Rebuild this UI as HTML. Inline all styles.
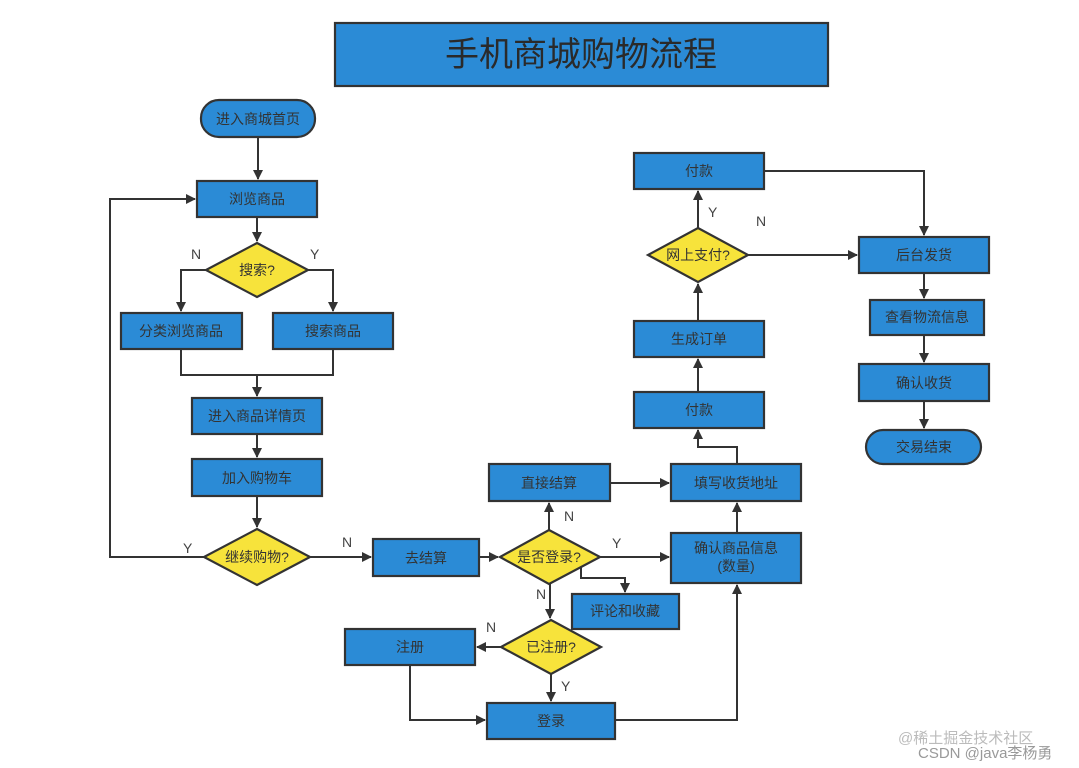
<!DOCTYPE html>
<html><head><meta charset="utf-8"><style>
html,body{margin:0;padding:0;background:#fff;}
svg{display:block;}
text{font-family:"Liberation Sans","Noto Sans CJK SC",sans-serif;fill:#333;}
.b{fill:#2b8bd6;stroke:#333;stroke-width:2.2;}
.d{fill:#f7e33b;stroke:#333;stroke-width:2.2;}
.l{fill:none;stroke:#333;stroke-width:2;}
.t{font-size:14px;text-anchor:middle;dominant-baseline:central;}
.s{font-size:14px;fill:#444;}
</style></head><body>
<svg width="1079" height="768" viewBox="0 0 1079 768" xmlns="http://www.w3.org/2000/svg">
<defs><marker id="a" markerWidth="10" markerHeight="10" refX="9" refY="5" orient="auto" markerUnits="userSpaceOnUse"><path d="M0,0 L10,5 L0,10 z" fill="#333"/></marker></defs>
<rect class="b" x="335" y="23" width="493" height="63"/>
<text x="581" y="55" style="font-size:34px;text-anchor:middle;dominant-baseline:central;fill:#2a2a2a">手机商城购物流程</text>

<!-- connectors -->
<g class="l">
<path d="M258,137 V179" marker-end="url(#a)"/>
<path d="M257,217 V241" marker-end="url(#a)"/>
<path d="M206,270 H181 V311" marker-end="url(#a)"/>
<path d="M308,270 H333 V311" marker-end="url(#a)"/>
<path d="M181,349 V375 H333 V349"/>
<path d="M257,375 V396" marker-end="url(#a)"/>
<path d="M257,434 V457" marker-end="url(#a)"/>
<path d="M257,496 V527" marker-end="url(#a)"/>
<path d="M204,557 H110 V199 H195" marker-end="url(#a)"/>
<path d="M310,557 H371" marker-end="url(#a)"/>
<path d="M479,557 H498" marker-end="url(#a)"/>
<path d="M549,530 V503" marker-end="url(#a)"/>
<path d="M600,557 H669" marker-end="url(#a)"/>
<path d="M581,566 V578 H625 V592" marker-end="url(#a)"/>
<path d="M550,584 V618" marker-end="url(#a)"/>
<path d="M501,647 H477" marker-end="url(#a)"/>
<path d="M551,674 V701" marker-end="url(#a)"/>
<path d="M410,665 V720 H485" marker-end="url(#a)"/>
<path d="M615,720 H737 V585" marker-end="url(#a)"/>
<path d="M610,483 H669" marker-end="url(#a)"/>
<path d="M737,533 V503" marker-end="url(#a)"/>
<path d="M737,464 V447 H698 V430" marker-end="url(#a)"/>
<path d="M698,392 V359" marker-end="url(#a)"/>
<path d="M698,321 V284" marker-end="url(#a)"/>
<path d="M698,228 V191" marker-end="url(#a)"/>
<path d="M748,255 H857" marker-end="url(#a)"/>
<path d="M764,171 H924 V235" marker-end="url(#a)"/>
<path d="M924,273 V298" marker-end="url(#a)"/>
<path d="M924,335 V362" marker-end="url(#a)"/>
<path d="M924,401 V428" marker-end="url(#a)"/>
</g>

<!-- nodes -->
<rect class="b" x="201" y="100" width="114" height="37" rx="18"/><text class="t" x="258" y="119">进入商城首页</text>
<rect class="b" x="197" y="181" width="120" height="36"/><text class="t" x="257" y="199">浏览商品</text>
<polygon class="d" points="257,243 308,270 257,297 206,270"/><text class="t" x="257" y="270">搜索?</text>
<rect class="b" x="121" y="313" width="121" height="36"/><text class="t" x="181" y="331">分类浏览商品</text>
<rect class="b" x="273" y="313" width="120" height="36"/><text class="t" x="333" y="331">搜索商品</text>
<rect class="b" x="192" y="398" width="130" height="36"/><text class="t" x="257" y="416">进入商品详情页</text>
<rect class="b" x="192" y="459" width="130" height="37"/><text class="t" x="257" y="478">加入购物车</text>
<polygon class="d" points="257,529 310,557 257,585 204,557"/><text class="t" x="257" y="557">继续购物?</text>
<rect class="b" x="373" y="539" width="106" height="37"/><text class="t" x="426" y="558">去结算</text>
<polygon class="d" points="549,530 600,557 549,584 500,557"/><text class="t" x="549" y="557">是否登录?</text>
<rect class="b" x="489" y="464" width="121" height="37"/><text class="t" x="549" y="483">直接结算</text>
<rect class="b" x="572" y="594" width="107" height="35"/><text class="t" x="625" y="611">评论和收藏</text>
<polygon class="d" points="551,620 601,647 551,674 501,647"/><text class="t" x="551" y="647">已注册?</text>
<rect class="b" x="345" y="629" width="130" height="36"/><text class="t" x="410" y="647">注册</text>
<rect class="b" x="487" y="703" width="128" height="36"/><text class="t" x="551" y="721">登录</text>
<rect class="b" x="671" y="533" width="130" height="50"/><text class="t" x="736" y="548">确认商品信息</text><text class="t" x="736" y="566">(数量)</text>
<rect class="b" x="671" y="464" width="130" height="37"/><text class="t" x="736" y="483">填写收货地址</text>
<rect class="b" x="634" y="392" width="130" height="36"/><text class="t" x="699" y="410">付款</text>
<rect class="b" x="634" y="321" width="130" height="36"/><text class="t" x="699" y="339">生成订单</text>
<polygon class="d" points="698,228 748,255 698,282 648,255"/><text class="t" x="698" y="255">网上支付?</text>
<rect class="b" x="634" y="153" width="130" height="36"/><text class="t" x="699" y="171">付款</text>
<rect class="b" x="859" y="237" width="130" height="36"/><text class="t" x="924" y="255">后台发货</text>
<rect class="b" x="870" y="300" width="114" height="35"/><text class="t" x="927" y="317">查看物流信息</text>
<rect class="b" x="859" y="364" width="130" height="37"/><text class="t" x="924" y="383">确认收货</text>
<rect class="b" x="866" y="430" width="115" height="34" rx="17"/><text class="t" x="924" y="447">交易结束</text>

<!-- labels -->
<text class="s" x="191" y="259">N</text>
<text class="s" x="310" y="259">Y</text>
<text class="s" x="183" y="553">Y</text>
<text class="s" x="342" y="547">N</text>
<text class="s" x="564" y="521">N</text>
<text class="s" x="612" y="548">Y</text>
<text class="s" x="536" y="599">N</text>
<text class="s" x="486" y="632">N</text>
<text class="s" x="561" y="691">Y</text>
<text class="s" x="708" y="217">Y</text>
<text class="s" x="756" y="226">N</text>
<text x="898" y="743" style="font-size:15px;fill:#bbb">@稀土掘金技术社区</text>
<text x="918" y="758" style="font-size:15px;fill:#999">CSDN @java李杨勇</text>
</svg>
</body></html>
